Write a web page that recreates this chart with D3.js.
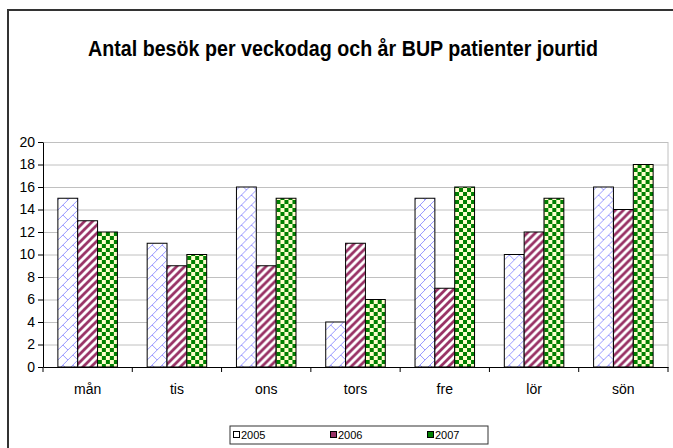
<!DOCTYPE html>
<html>
<head>
<meta charset="utf-8">
<style>
  body { margin: 0; background: #fff; }
  svg { display: block; font-family: Arial, 'Liberation Sans', sans-serif; }
  .grid line { stroke: #c0c0c0; }
  .grid .domain { display: none; }
  .axis text { font-size: 14px; fill: #000; }
  .axis line, .axis path { stroke: #000; }
</style>
</head>
<body>
<svg width="673" height="448"></svg>
<script src="https://d3js.org/d3.v7.min.js"></script>
<script>
// data
const days = ["mån", "tis", "ons", "tors", "fre", "lör", "sön"];
const years = ["2005", "2006", "2007"];
const v2005 = [15, 11, 16, 4, 15, 10, 16];
const v2006 = [13, 9, 9, 11, 7, 12, 14];
const v2007 = [12, 10, 15, 6, 16, 15, 18];
const yTicks = [0, 2, 4, 6, 8, 10, 12, 14, 16, 18, 20];

const seriesVals = [v2005, v2006, v2007];

let svg = d3.select("svg");

// patterns
let defs = svg.append("defs");

// 2005: light blue diagonal brick / zigzag
let p1 = defs.append("pattern").attr("id", "pat2005")
  .attr("patternUnits", "userSpaceOnUse").attr("width", 10).attr("height", 10);
p1.append("rect").attr("width", 10).attr("height", 10).attr("fill", "#fff");
p1.append("path").attr("d", "M0,10 L10,0 M5,5 L10,10 M-1,1 L1,-1 M9,11 L11,9")
  .attr("stroke", "#9a9aff").attr("stroke-width", 1).attr("fill", "none");

// 2006: magenta diagonal stripes
let p2 = defs.append("pattern").attr("id", "pat2006")
  .attr("patternUnits", "userSpaceOnUse").attr("width", 8).attr("height", 8);
p2.append("rect").attr("width", 8).attr("height", 8).attr("fill", "#fff");
p2.append("path").attr("d", "M-2,10 L10,-2 M-6,6 L6,-6 M2,14 L14,2")
  .attr("stroke", "#993366").attr("stroke-width", 2.8);

// 2007: green / light yellow checkerboard
let p3 = defs.append("pattern").attr("id", "pat2007")
  .attr("patternUnits", "userSpaceOnUse").attr("width", 8).attr("height", 8);
p3.append("rect").attr("width", 8).attr("height", 8).attr("fill", "#ffffcc");
p3.append("rect").attr("width", 4).attr("height", 4).attr("fill", "#008000");
p3.append("rect").attr("x", 4).attr("y", 4).attr("width", 4).attr("height", 4).attr("fill", "#008000");

const fills = ["url(#pat2005)", "url(#pat2006)", "url(#pat2007)"];
const legendFills = ["#ffffff", "#993366", "#008000"];

// outer frame
svg.append("rect")
  .attr("x", 8).attr("y", 10).attr("width", 680).attr("height", 460)
  .attr("fill", "none").attr("stroke", "#333").attr("stroke-width", 2);

// title
svg.append("text")
  .attr("x", 343).attr("y", 56)
  .attr("text-anchor", "middle")
  .attr("font-size", 22).attr("font-weight", "bold")
  .attr("textLength", 510).attr("lengthAdjust", "spacingAndGlyphs")
  .text("Antal besök per veckodag och år BUP patienter jourtid");

let margin = { left: 43, right: 668, top: 142, bottom: 367 };

let x = d3.scaleBand().domain(days).range([margin.left, margin.right]);
let y = d3.scaleLinear().domain([0, 20]).range([margin.bottom, margin.top]);

// gridlines
svg.append("g").attr("class", "grid")
  .attr("transform", `translate(${margin.left},0)`)
  .call(d3.axisRight(y).tickValues(yTicks.slice(1)).tickSize(margin.right - margin.left).tickFormat(""));

// plot area right border
svg.append("line")
  .attr("x1", margin.right).attr("x2", margin.right)
  .attr("y1", margin.top).attr("y2", margin.bottom)
  .attr("stroke", "#c0c0c0");

// bars
let bw = x.bandwidth() / 4.5;
let groups = svg.append("g").selectAll("g")
  .data(days).join("g")
  .attr("transform", d => `translate(${x(d) + bw * 0.75},0)`);

groups.selectAll("rect")
  .data((d, i) => seriesVals.map((s, j) => ({ v: s[i], j: j })))
  .join("rect")
  .attr("x", d => d.j * bw)
  .attr("y", d => y(d.v))
  .attr("width", bw)
  .attr("height", d => y(0) - y(d.v))
  .attr("fill", d => fills[d.j])
  .attr("stroke", "#000")
  .attr("stroke-width", 1);

// y axis
svg.append("g").attr("class", "axis")
  .attr("transform", `translate(${margin.left},0)`)
  .call(d3.axisLeft(y).tickValues(yTicks).tickSize(5).tickPadding(3).tickSizeOuter(0));

// x axis with ticks at category boundaries
let xAxis = svg.append("g").attr("class", "axis")
  .attr("transform", `translate(0,${margin.bottom})`)
  .call(d3.axisBottom(x).tickSize(0).tickPadding(17).tickSizeOuter(0));
xAxis.selectAll(".bound")
  .data(days.concat(["end"])).join("line")
  .attr("x1", (d, i) => i < days.length ? x(d) : margin.right)
  .attr("x2", (d, i) => i < days.length ? x(d) : margin.right)
  .attr("y1", 0).attr("y2", 5)
  .attr("stroke", "#000");

// legend
let lg = svg.append("g");
lg.append("rect")
  .attr("x", 230).attr("y", 426).attr("width", 258).attr("height", 18)
  .attr("fill", "#fff").attr("stroke", "#333").attr("stroke-width", 1);
let lx = [233, 330, 427];
years.forEach((yr, i) => {
  lg.append("rect")
    .attr("x", lx[i] + 0.5).attr("y", 431.5).attr("width", 6).attr("height", 6)
    .attr("fill", legendFills[i]).attr("stroke", "#000");
  lg.append("text")
    .attr("x", lx[i] + 8).attr("y", 439)
    .attr("font-size", 11)
    .text(yr);
});
</script>
</body>
</html>
